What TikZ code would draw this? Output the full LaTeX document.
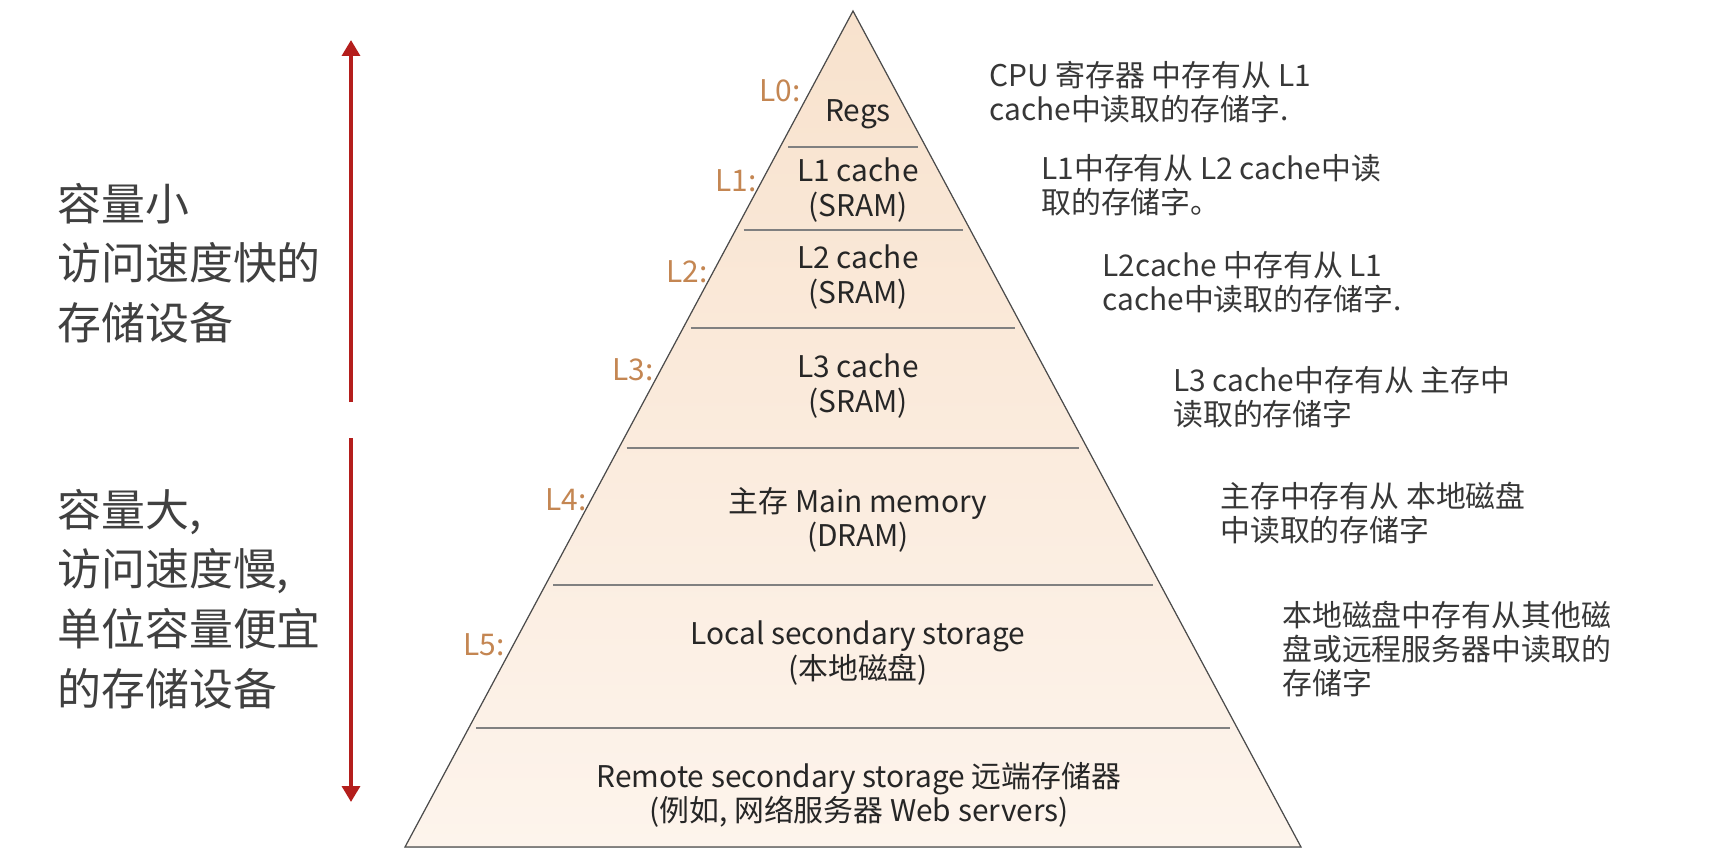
\documentclass[tikz,border=0pt]{standalone}
\usepackage{fontspec}
\setmainfont{Noto Sans CJK SC}
\usetikzlibrary{arrows.meta}
\definecolor{peachtop}{RGB}{248,226,205}
\definecolor{peachbot}{RGB}{253,244,236}
\definecolor{levelbrown}{RGB}{196,134,82}
\definecolor{arrowred}{RGB}{180,30,28}
\definecolor{notegray}{RGB}{55,55,55}
\begin{document}
\begin{tikzpicture}[x=0.02cm, y=-0.02cm,
  tier/.style={align=center, font=\fontsize{17}{19.5}\selectfont, text=black!85, inner sep=0pt},
  lvl/.style={anchor=east, font=\fontsize{17}{19.5}\selectfont, text=levelbrown, inner sep=0pt},
  note/.style={anchor=west, align=left, font=\fontsize{17}{19.5}\selectfont, text=notegray, inner sep=0pt},
  side/.style={anchor=west, align=left, font=\fontsize{25}{34}\selectfont, text=black!75, inner sep=0pt},
  divline/.style={draw=black!50, line width=1.3pt},
  bigarrow/.style={draw=arrowred, line width=2.4pt, -{Triangle[width=10pt,length=9pt]}}
]
  \useasboundingbox[fill=white] (0,0) rectangle (1718,860);

  \coordinate (apex) at (853,11);
  \coordinate (baseL) at (405,847);
  \coordinate (baseR) at (1301,847);
  \filldraw[draw=black!70, line width=0.7pt, top color=peachtop, bottom color=peachbot]
    (apex) -- (baseR) -- (baseL) -- cycle;
  \foreach \y in {147,230,328,448,585,728}
    \draw[divline] ({853-0.5365*(\y-11)+8},\y) -- ({853+0.5365*(\y-11)-8},\y);

  \node[tier] (regs) at (858,114) {Regs};
  \node[tier] (l1) at (858,190) {L1 cache\\(SRAM)};
  \node[tier] (l2) at (858,277) {L2 cache\\(SRAM)};
  \node[tier] (l3) at (858,386) {L3 cache\\(SRAM)};
  \node[tier] (mem) at (858,520) {主存 Main memory\\(DRAM)};
  \node[tier] (disk) at (858,653) {Local secondary storage\\(本地磁盘)};
  \node[tier] (remote) at (859,795) {Remote secondary storage 远端存储器\\(例如, 网络服务器 Web servers)};

  \node[lvl] (t0) at (801,91) {L0:};
  \node[lvl] (t1) at (757,181) {L1:};
  \node[lvl] (t2) at (708,272) {L2:};
  \node[lvl] (t3) at (654,370) {L3:};
  \node[lvl] (t4) at (587,500) {L4:};
  \node[lvl] (t5) at (505,645) {L5:};

  \node[note] (n0) at (989,92) {CPU 寄存器 中存有从 L1\\cache中读取的存储字.};
  \node[note] (n1) at (1041,185) {L1中存有从 L2 cache中读\\取的存储字。};
  \node[note] (n2) at (1102,282) {L2cache 中存有从 L1\\cache中读取的存储字.};
  \node[note] (n3) at (1173,397) {L3 cache中存有从 主存中\\读取的存储字};
  \node[note] (n4) at (1220,513) {主存中存有从 本地磁盘\\中读取的存储字};
  \node[note] (n5) at (1282,649) {本地磁盘中存有从其他磁\\盘或远程服务器中读取的\\存储字};

  \node[side] (fast) at (57,263) {容量小\\访问速度快的\\存储设备};
  \node[side] (slow) at (57,599) {容量大,\\访问速度慢,\\单位容量便宜\\的存储设备};

  \coordinate (upfoot) at (351,402);
  \coordinate (uptip) at (351,40);
  \coordinate (downtop) at (351,438);
  \coordinate (downtip) at (351,802);
  \draw[bigarrow] (upfoot) -- (uptip);
  \draw[bigarrow] (downtop) -- (downtip);
\end{tikzpicture}
\end{document}
